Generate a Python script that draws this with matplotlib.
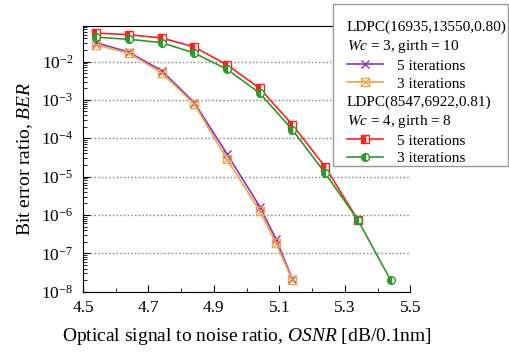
import matplotlib
matplotlib.use("Agg")
import matplotlib.pyplot as plt
from matplotlib.lines import Line2D
from matplotlib.patches import Rectangle
from matplotlib.path import Path
from matplotlib.ticker import MultipleLocator, LogLocator

plt.rcParams["font.family"] = "Liberation Serif"
plt.rcParams["mathtext.fontset"] = "custom"
plt.rcParams["mathtext.rm"] = "Liberation Serif"
plt.rcParams["mathtext.it"] = "Liberation Serif:italic"

# LDPC(16935,13550,0.80), Wc = 3, girth = 10
osnr_a = [4.54, 4.64, 4.74, 4.84, 4.94, 5.04, 5.09, 5.14]
ber_a_5it = [0.031, 0.0176, 0.0058, 0.00085, 3.9e-5, 1.66e-6, 2.33e-7, 2.1e-8]
ber_a_3it = [0.027, 0.0166, 0.0051, 0.00078, 2.85e-5, 1.27e-6, 1.83e-7, 2.0e-8]

# LDPC(8547,6922,0.81), Wc = 4, girth = 8
osnr_b5 = [4.54, 4.64, 4.74, 4.84, 4.94, 5.04, 5.14, 5.24, 5.34]
ber_b_5it = [0.055, 0.050, 0.041, 0.024, 0.0082, 0.0020, 2.24e-4, 1.8e-5, 7.4e-7]
osnr_b3 = [4.54, 4.64, 4.74, 4.84, 4.94, 5.04, 5.14, 5.24, 5.34, 5.44]
ber_b_3it = [0.043, 0.038, 0.031, 0.0166, 0.0063, 0.0015, 1.66e-4, 1.23e-5, 7.4e-7, 2.0e-8]

xticks = [4.5, 4.7, 4.9, 5.1, 5.3, 5.5]

purple = "#9030c0"
orange = "#f5a040"
red = "#ff2020"
green = "#2a9a2a"

# square with an x inside
boxx = Path([(-1, -1), (1, -1), (1, 1), (-1, 1), (-1, -1), (-1, -1), (1, 1), (-1, 1), (1, -1)],
            [Path.MOVETO, Path.LINETO, Path.LINETO, Path.LINETO, Path.CLOSEPOLY,
             Path.MOVETO, Path.LINETO, Path.MOVETO, Path.LINETO])

fig = plt.figure(figsize=(5.09, 3.54), dpi=100)
ax = fig.add_axes([0.163, 0.176, 0.643, 0.751])

l1, = ax.plot(osnr_a, ber_a_5it, color=purple, lw=1.2, marker="x", ms=6, mew=1.0)
l2, = ax.plot(osnr_a, ber_a_3it, color=orange, lw=1.2, marker=boxx, ms=6, mew=0.8, mfc="none")
l3, = ax.plot(osnr_b5, ber_b_5it, color=red, lw=1.2, marker="s", ms=5.5, fillstyle="left",
              markerfacecoloralt="white", mec=red)
l4, = ax.plot(osnr_b3, ber_b_3it, color=green, lw=1.2, marker="o", ms=5.5, fillstyle="left",
              markerfacecoloralt="white", mec=green)

ax.set_yscale("log")
ax.set_xlim(4.5, 5.5)
ax.set_ylim(1e-8, 0.085)
ax.set_xticks(xticks)
ax.set_xticklabels([f"{v:.1f}" for v in xticks])
ax.xaxis.set_minor_locator(MultipleLocator(0.1))
ax.yaxis.set_major_locator(LogLocator(base=10, numticks=20))
ax.yaxis.set_minor_locator(LogLocator(base=10, subs=range(2, 10), numticks=100))
ax.tick_params(which="both", direction="in", labelsize=12.5)
ax.tick_params(which="major", length=5)
ax.tick_params(which="minor", length=3)
ax.tick_params(axis="x", which="major", pad=6)
ax.tick_params(axis="y", which="major", pad=7)
ax.spines["right"].set_visible(False)
ax.yaxis.grid(True, which="major", linestyle=":", color="gray", lw=1)

ax.set_xlabel("Optical signal to noise ratio, $OSNR$ [dB/0.1nm]", fontsize=14, labelpad=7)
ax.set_ylabel("Bit error ratio, $BER$", fontsize=14, labelpad=4)

# legend box
fig.patches.append(Rectangle((333 / 509, 1 - 166 / 354), 175 / 509, 162 / 354,
                             transform=fig.transFigure, facecolor="white",
                             edgecolor="#999999", lw=1, zorder=2))

blank = Line2D([], [], color="none")
handles = [blank, blank, l1, l2, blank, blank, l3, l4]
labels = ["LDPC(16935,13550,0.80)", "$Wc$ = 3, girth = 10", "5 iterations", "3 iterations",
          "LDPC(8547,6922,0.81)", "$Wc$ = 4, girth = 8", "5 iterations", "3 iterations"]
is_title = [True, True, False, False, True, True, False, False]

leg = fig.legend(handles, labels, loc="upper left", bbox_to_anchor=(347 / 509, 1 - 20 / 354),
                 frameon=False, handlelength=2.35, handletextpad=0.9, labelspacing=0.27,
                 borderpad=0, borderaxespad=0, fontsize=11)
for row, title in zip(leg._legend_handle_box.get_children()[0].get_children(), is_title):
    if title:
        row.get_children()[0].width = 0
        row.sep = 0

fig.savefig("out.png", dpi=100)
